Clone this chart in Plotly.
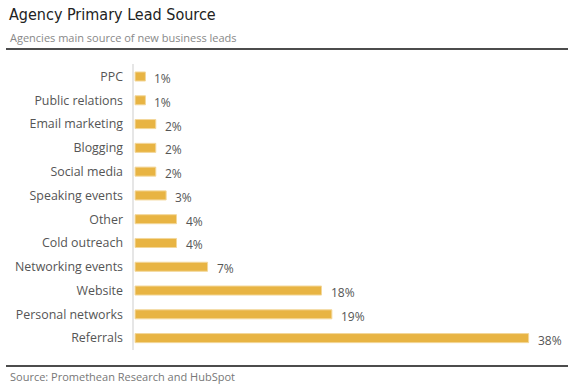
import plotly.graph_objects as go

categories = ["PPC", "Public relations", "Email marketing", "Blogging", "Social media",
              "Speaking events", "Other", "Cold outreach", "Networking events",
              "Website", "Personal networks", "Referrals"]
values = [1, 1, 2, 2, 2, 3, 4, 4, 7, 18, 19, 38]
labels = [f"{v}%" for v in values]

W, H = 575, 389
L, R, T, B = 133, 7, 64, 39
pw, ph = W - L - R, H - T - B

def px_x(x):
    return (x - L) / pw

def px_y(y):
    return (H - B - y) / ph

fig = go.Figure(go.Bar(
    y=categories, x=values, orientation="h",
    marker=dict(color="#E8B443", line=dict(color="#F3D79A", width=1)),
    width=0.38,
    hoverinfo="skip",
))

value_notes = [
    dict(x=v, y=c, text=t, xref="x", yref="y", xanchor="left", yanchor="middle",
         xshift=7, yshift=-2, showarrow=False,
         font=dict(family="Open Sans", size=12, color="#555"))
    for v, c, t in zip(values, categories, labels)
]

fig.update_layout(
    width=W, height=H,
    margin=dict(l=L, r=R, t=T, b=B),
    paper_bgcolor="white", plot_bgcolor="white",
    showlegend=False,
    xaxis=dict(range=[-0.2, 41.8], visible=False, fixedrange=True),
    yaxis=dict(autorange="reversed", showgrid=False, zeroline=False,
               showline=False, ticks="", ticklabelstandoff=9, fixedrange=True,
               tickfont=dict(family="Open Sans", size=12.4, color="#555")),
    shapes=[
        dict(type="line", xref="paper", yref="paper", x0=0, x1=0, y0=0, y1=1,
             line=dict(color="#E6E6E6", width=2)),
        dict(type="line", xref="paper", yref="paper", x0=px_x(6), x1=px_x(568),
             y0=px_y(49), y1=px_y(49), line=dict(color="#111", width=1.5)),
        dict(type="line", xref="paper", yref="paper", x0=px_x(6), x1=px_x(568),
             y0=px_y(366), y1=px_y(366), line=dict(color="#111", width=1.5)),
    ],
    annotations=value_notes + [
        dict(text="Agency Primary Lead Source", xref="paper", yref="paper",
             x=px_x(7), y=px_y(14), xanchor="left", yanchor="middle", showarrow=False,
             font=dict(family="DejaVu Sans Condensed", size=16, color="#222")),
        dict(text="Agencies main source of new business leads", xref="paper", yref="paper",
             x=px_x(8), y=px_y(37), xanchor="left", yanchor="middle", showarrow=False,
             font=dict(family="Open Sans", size=11, color="#888")),
        dict(text="Source: Promethean Research and HubSpot", xref="paper", yref="paper",
             x=px_x(8), y=px_y(376), xanchor="left", yanchor="middle", showarrow=False,
             font=dict(family="Open Sans", size=11, color="#777")),
    ],
)

fig.write_html("out.html", config={"displayModeBar": False},
               post_script="document.body.style.margin='0';")
